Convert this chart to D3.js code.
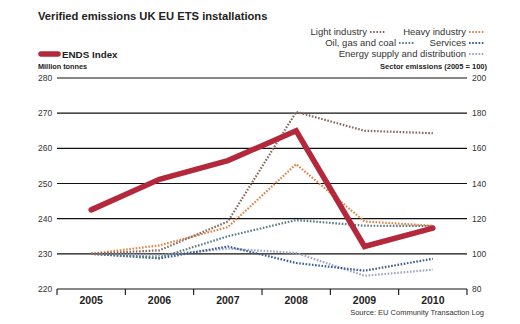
<!DOCTYPE html>
<html>
<head>
<meta charset="utf-8">
<script src="https://cdnjs.cloudflare.com/ajax/libs/d3/7.8.5/d3.min.js"></script>
<style>
  body { margin: 0; background: #fff; }
  svg { font-family: "Liberation Sans", Arial, sans-serif; }
</style>
</head>
<body>
<svg id="chart" width="520" height="324"></svg>
<script>
var years = ["2005", "2006", "2007", "2008", "2009", "2010"];
var endsIndex = [242.5, 251.2, 256.5, 265.0, 232.1, 237.3];
var lightIndustry = [100, 102, 118.4, 180.7, 170, 168.6];
var heavyIndustry = [100, 104.8, 115.2, 151, 118.4, 116];
var oilGasCoal = [100, 97.8, 110, 119.2, 116, 115.8];
var services = [100, 97.4, 104.2, 94.8, 90.4, 97.2];
var energySupply = [100, 99.2, 103, 100.5, 87.5, 91];
var leftTicks = [220, 230, 240, 250, 260, 270, 280];
var rightTicks = [80, 100, 120, 140, 160, 180, 200];

var sectors = [
  { name: "Light industry", values: lightIndustry, color: "#86685f" },
  { name: "Heavy industry", values: heavyIndustry, color: "#de8447" },
  { name: "Oil, gas and coal", values: oilGasCoal, color: "#5a7b7f" },
  { name: "Services", values: services, color: "#3a5c93" },
  { name: "Energy supply and distribution", values: energySupply, color: "#9ea5c0" }
];

var svg = d3.select("#chart");
var plotLeft = 57, plotRight = 467, plotTop = 78, plotBottom = 289;

var x = d3.scaleBand().domain(years).range([plotLeft, plotRight]);
var yL = d3.scaleLinear().domain([220, 280]).range([plotBottom, plotTop]);
var yR = d3.scaleLinear().domain([80, 200]).range([plotBottom, plotTop]);

// title
svg.append("text")
  .attr("x", 38).attr("y", 20)
  .style("font-weight", "bold").style("font-size", "11.2px")
  .attr("fill", "#222")
  .text("Verified emissions UK EU ETS installations");

// gridlines
svg.selectAll(".grid")
  .data(leftTicks.slice(1))
  .enter().append("line")
  .attr("x1", plotLeft).attr("x2", plotRight)
  .attr("y1", function(d) { return yL(d); })
  .attr("y2", function(d) { return yL(d); })
  .attr("stroke", "#111").attr("stroke-width", 1.1);

// left labels
svg.selectAll(".ll")
  .data(leftTicks)
  .enter().append("text")
  .attr("x", 38)
  .attr("y", function(d) { return yL(d) + 3; })
  .style("font-size", "8.5px").attr("fill", "#333")
  .text(function(d) { return d; });

// right labels
svg.selectAll(".rl")
  .data(rightTicks)
  .enter().append("text")
  .attr("x", 472)
  .attr("y", function(d) { return yR(d) + 3; })
  .style("font-size", "8.5px").attr("fill", "#333")
  .text(function(d) { return d; });

// bottom axis
var xAxis = d3.axisBottom(x).tickSize(0).tickPadding(8);
var ax = svg.append("g").attr("transform", "translate(0," + plotBottom + ")").call(xAxis);
ax.select(".domain").remove();
ax.selectAll("text").style("font-size", "10.5px").style("font-weight", "bold")
  .style("font-family", "'Liberation Sans', Arial, sans-serif").attr("fill", "#222");
svg.append("line").attr("x1", plotLeft).attr("x2", plotRight)
  .attr("y1", plotBottom).attr("y2", plotBottom)
  .attr("stroke", "#111").attr("stroke-width", 1.2);
var edges = years.map(function(d) { return x(d); }).concat([plotRight]);
svg.selectAll(".tk")
  .data(edges)
  .enter().append("line")
  .attr("x1", function(d) { return d; }).attr("x2", function(d) { return d; })
  .attr("y1", plotBottom).attr("y2", plotBottom + 6)
  .attr("stroke", "#111").attr("stroke-width", 1.1);

// sector lines
var lineR = d3.line()
  .x(function(d, i) { return x(years[i]) + x.bandwidth() / 2; })
  .y(function(d) { return yR(d); });

sectors.slice().reverse().forEach(function(s) {
  svg.append("path")
    .datum(s.values)
    .attr("d", lineR)
    .attr("fill", "none")
    .attr("stroke", s.color)
    .attr("stroke-width", 2.2)
    .attr("stroke-dasharray", "1.6,1.6");
});

// ENDS line
var lineL = d3.line()
  .x(function(d, i) { return x(years[i]) + x.bandwidth() / 2; })
  .y(function(d) { return yL(d); });

svg.append("path")
  .datum(endsIndex)
  .attr("d", lineL)
  .attr("fill", "none")
  .attr("stroke", "#b3283a")
  .attr("stroke-width", 5.5)
  .attr("stroke-linecap", "round")
  .attr("stroke-linejoin", "miter");

// ENDS legend
svg.append("line").attr("x1", 41).attr("x2", 58).attr("y1", 54).attr("y2", 54)
  .attr("stroke", "#b3283a").attr("stroke-width", 5.5).attr("stroke-linecap", "round");
svg.append("text").attr("x", 62).attr("y", 58)
  .style("font-size", "9.8px").style("font-weight", "bold").attr("fill", "#222")
  .text("ENDS Index");
svg.append("text").attr("x", 38).attr("y", 69)
  .style("font-size", "7.3px").style("font-weight", "bold").attr("fill", "#222")
  .text("Million tonnes");

// sector legend
var legendPos = [
  { x: 367, y: 35 }, { x: 466, y: 35 },
  { x: 396, y: 46 }, { x: 466, y: 46 },
  { x: 466, y: 57 }
];
sectors.forEach(function(s, i) {
  var p = legendPos[i];
  svg.append("text").attr("x", p.x).attr("y", p.y)
    .attr("text-anchor", "end")
    .style("font-size", "9.5px").attr("fill", "#333")
    .text(s.name);
  svg.append("line")
    .attr("x1", p.x + 3).attr("x2", p.x + 18)
    .attr("y1", p.y - 3).attr("y2", p.y - 3)
    .attr("stroke", s.color).attr("stroke-width", 2.2)
    .attr("stroke-dasharray", "1.6,1.6");
});
svg.append("text").attr("x", 487).attr("y", 69)
  .attr("text-anchor", "end")
  .style("font-size", "7.5px").style("font-weight", "bold").attr("fill", "#222")
  .text("Sector emissions (2005 = 100)");

// source
svg.append("text").attr("x", 484).attr("y", 315)
  .attr("text-anchor", "end")
  .style("font-size", "7.5px").attr("fill", "#333")
  .text("Source: EU Community Transaction Log");
</script>
</body>
</html>
